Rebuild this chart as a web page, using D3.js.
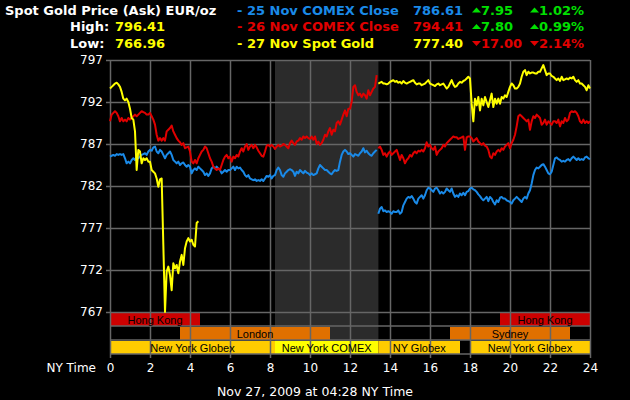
<!DOCTYPE html>
<html>
<head>
<meta charset="utf-8">
<script src="https://cdn.jsdelivr.net/npm/d3@7"></script>
<style>
	html, body { margin: 0; padding: 0; background: #000; }
	svg { display: block; }
</style>
</head>
<body>
<div id="chart"></div>
<script>

// ---- data (5 minute samples, NY time) ----

const hours = d3.range(0, 25, 2);
const priceTicks = [767, 772, 777, 782, 787, 792, 797];

// samples after the COMEX close start at this index (13:25)
const pmStart = 161;

const spotAm = [
	793.6, 793.8, 794.0, 794.2, 794.3, 794.1, 793.8, 793.2, 792.4, 792.2,
	792.4, 792.0, 791.2, 790.1, 789.9, 788.5, 783.9, 786.3, 786.1, 784.7,
	785.3, 785.1, 785.3, 784.9, 784.9, 783.9, 783.7, 783.5, 782.9, 781.9,
	782.8, 782.9, 775.0, 767.0, 771.8, 772.4, 771.4, 769.6, 772.8, 772.2,
	772.6, 771.6, 773.0, 773.8, 772.6, 774.6, 775.4, 775.8, 775.4, 775.6,
	775.0, 774.8, 777.6, 777.8
];

const spotPm = [
	794.2, 794.3, 794.4, 794.2, 794.2, 794.1, 794.2, 794.4, 794.5, 794.6,
	794.4, 794.5, 794.3, 794.4, 794.2, 794.5, 794.3, 794.2, 794.3, 794.4,
	794.5, 794.6, 794.3, 794.1, 794.2, 794.2, 794.0, 794.1, 794.2, 794.4,
	794.6, 794.2, 794.1, 794.0, 793.9, 794.1, 794.2, 794.0, 794.1, 794.2,
	793.9, 793.6, 793.8, 794.2, 794.6, 794.1, 793.8, 793.9, 794.2, 794.4,
	794.3, 794.5, 794.6, 794.8, 795.0, 794.8, 791.8, 789.7, 792.4, 791.6,
	792.6, 791.0, 792.4, 791.6, 792.6, 792.0, 791.4, 792.2, 793.0, 791.4,
	792.4, 791.8, 792.4, 791.8, 792.6, 792.4, 792.8, 792.6, 793.2, 793.8,
	794.2, 794.0, 793.6, 793.6, 793.8, 794.2, 795.0, 795.6, 795.8, 795.2,
	795.6, 795.4, 795.5, 795.5, 795.4, 795.4, 795.6, 795.6, 796.0, 796.4,
	795.8, 795.2, 795.4, 795.4, 795.1, 795.0, 794.8, 794.6, 794.8, 794.5,
	795.0, 794.6, 794.7, 794.8, 794.7, 794.9, 794.8, 795.0, 794.6, 794.4,
	794.6, 794.2, 794.2, 794.0, 793.8, 793.4, 794.0, 793.6
];

const nov26Am = [
	789.7, 790.5, 790.7, 790.9, 790.7, 790.3, 789.7, 790.1, 789.7, 789.9,
	789.7, 790.1, 789.9, 790.1, 790.3, 790.5, 790.3, 790.5, 790.7, 790.9,
	790.8, 790.7, 790.5, 790.5, 790.7, 790.3, 789.9, 789.3, 788.1, 787.4,
	787.7, 787.4, 787.7, 787.4, 788.5, 788.7, 788.9, 789.2, 788.5, 788.1,
	787.7, 787.4, 787.2, 786.9, 787.1, 786.5, 786.6, 786.7, 786.1, 784.9,
	784.7, 785.1, 784.7, 785.3, 785.7, 786.1, 786.3, 786.7, 786.5, 785.9,
	785.3, 784.9, 784.3, 784.1, 783.9, 784.1, 783.9, 784.5, 785.1, 785.5,
	785.7, 785.3, 785.5, 784.9, 785.5, 785.3, 785.7, 785.5, 786.1, 786.5,
	786.1, 786.7, 787.0, 786.3, 786.7, 786.9, 786.5, 786.9, 786.6, 786.2,
	785.9, 785.6, 785.5, 786.1, 786.8, 786.9, 786.7, 786.9, 786.7, 786.4,
	786.7, 786.9, 786.7, 786.8, 787.0, 786.9, 786.7, 786.5, 787.1, 787.4,
	787.1, 786.9, 787.3, 787.4, 787.7, 787.5, 787.9, 787.7, 787.9, 787.7,
	787.6, 787.9, 787.5, 787.9, 787.0, 787.3, 786.9, 787.1, 787.5, 788.1,
	787.9, 788.5, 788.9, 788.1, 788.7, 788.5, 789.5, 789.7, 789.3, 789.9,
	790.5, 791.0, 790.3, 791.2, 791.2, 792.0, 793.8, 794.0, 793.2, 792.8,
	793.0, 792.6, 793.0, 792.8, 792.4, 793.4, 792.8, 793.2, 793.6, 793.8,
	795.2
];

const nov26Pm = [
	786.5, 786.7, 786.3, 785.7, 785.9, 785.5, 785.9, 786.1, 785.7, 785.9,
	786.1, 786.3, 785.7, 785.1, 785.7, 785.3, 784.7, 785.1, 785.3, 785.7,
	785.5, 785.9, 786.1, 785.9, 786.2, 786.1, 786.3, 786.1, 786.5, 787.2,
	786.7, 786.9, 786.5, 786.3, 786.7, 785.7, 786.1, 786.3, 786.5, 786.9,
	786.7, 787.1, 787.3, 787.5, 787.7, 787.9, 787.8, 787.8, 787.6, 787.7,
	787.8, 787.9, 786.3, 787.8, 787.9, 787.9, 787.7, 787.3, 787.5, 787.7,
	787.3, 787.1, 786.9, 787.1, 786.8, 786.7, 786.3, 785.5, 785.3, 785.9,
	785.7, 786.1, 786.3, 786.1, 786.5, 786.3, 786.7, 786.9, 787.1, 786.5,
	787.1, 787.5, 788.1, 789.1, 790.3, 790.5, 790.3, 790.1, 789.9, 789.7,
	789.9, 788.7, 789.7, 790.3, 790.1, 790.5, 790.3, 790.1, 789.3, 789.5,
	789.9, 789.3, 789.7, 789.5, 789.3, 789.7, 789.7, 789.5, 789.9, 789.1,
	789.7, 789.5, 790.1, 789.7, 789.9, 790.7, 790.9, 790.8, 790.9, 790.7,
	790.3, 789.7, 789.5, 789.9, 789.5, 789.7, 789.5, 789.7
];

const nov25Am = [
	785.5, 785.6, 785.7, 785.6, 785.8, 785.7, 785.8, 785.7, 785.8, 785.3,
	784.7, 784.9, 784.7, 785.1, 785.3, 785.1, 785.5, 785.3, 785.5, 785.7,
	785.8, 785.9, 785.7, 786.1, 786.3, 786.2, 786.6, 786.7, 786.1, 785.9,
	786.3, 786.1, 785.7, 785.3, 785.7, 785.9, 786.1, 785.7, 785.1, 784.9,
	784.7, 784.9, 784.5, 784.7, 784.8, 784.5, 784.3, 784.5, 784.3, 783.5,
	783.9, 784.1, 783.9, 784.3, 784.1, 783.9, 783.7, 783.3, 783.5, 783.2,
	783.5, 784.1, 784.3, 784.1, 784.3, 784.1, 783.9, 783.5, 783.7, 783.9,
	783.7, 783.9, 783.9, 784.1, 784.3, 783.9, 784.3, 784.1, 784.2, 783.9,
	783.7, 783.3, 783.1, 783.3, 782.9, 782.8, 782.7, 782.8, 782.6, 782.7,
	782.6, 782.8, 782.6, 782.9, 783.2, 783.1, 783.3, 782.9, 783.2, 783.3,
	783.9, 784.2, 783.9, 783.3, 783.1, 783.5, 783.7, 783.9, 784.0, 783.9,
	783.7, 783.2, 783.7, 783.5, 783.9, 783.7, 783.5, 783.8, 783.6, 783.5,
	783.3, 783.5, 783.3, 783.4, 783.5, 784.1, 784.5, 784.3, 784.1, 783.9,
	783.9, 783.7, 783.5, 783.4, 783.7, 783.9, 783.8, 783.9, 784.9, 785.7,
	786.1, 786.3, 786.1, 785.8, 785.9, 785.7, 785.5, 785.8, 785.7, 785.6,
	785.9, 786.1, 786.5, 786.0, 786.2, 785.9, 785.7, 785.6, 785.9, 786.1,
	786.3
];

const nov25Pm = [
	778.7, 779.3, 779.5, 779.0, 779.1, 778.9, 779.0, 778.9, 778.7, 779.0,
	778.9, 778.9, 779.1, 778.7, 778.9, 779.7, 780.1, 780.5, 780.7, 780.6,
	780.8, 780.5, 780.1, 779.9, 780.5, 780.7, 780.9, 780.5, 780.9, 781.5,
	781.8, 781.7, 781.5, 781.3, 781.7, 781.8, 781.5, 781.1, 781.3, 781.1,
	781.3, 781.7, 781.5, 781.3, 781.7, 781.1, 780.7, 780.9, 780.7, 781.1,
	780.9, 781.2, 780.9, 781.3, 781.4, 781.7, 781.8, 781.6, 781.5, 781.3,
	781.0, 780.8, 780.5, 780.3, 780.5, 780.7, 780.2, 780.7, 780.5, 780.1,
	779.8, 780.3, 780.1, 780.6, 780.7, 780.5, 780.5, 780.3, 780.2, 780.1,
	779.9, 780.3, 780.5, 780.7, 780.5, 780.3, 780.1, 780.5, 780.7, 780.5,
	781.1, 781.5, 782.3, 783.3, 783.9, 784.2, 784.1, 784.3, 784.5, 784.6,
	784.3, 783.9, 783.5, 783.4, 783.7, 784.5, 785.3, 785.4, 785.2, 785.1,
	784.9, 785.0, 784.9, 785.1, 785.2, 785.0, 785.3, 785.5, 785.3, 785.1,
	785.3, 785.1, 785.2, 785.1, 785.4, 785.5, 785.3, 785.2
];

const legendLabels = ['- 25 Nov COMEX Close', '- 26 Nov COMEX Close', '- 27 Nov Spot Gold'];
const legendPrices = ['786.61', '794.41', '777.40'];
const legendChanges = ['7.95', '7.80', '17.00'];
const legendPercents = ['1.02%', '0.99%', '2.14%'];
const legendUp = [true, true, false];
const highPrice = '796.41';
const lowPrice = '766.96';

// trading sessions under the chart (row 0 = top)
const sessionNames = ['Hong Kong', 'Hong Kong', 'London', 'Sydney', 'New York Globex', 'New York COMEX', 'NY Globex', 'New York Globex'];
const sessionFrom = [0, 19.5, 3.5, 17, 0, 8.25, 13.42, 18];
const sessionTo = [4.5, 24, 11, 23, 8.25, 13.42, 17.5, 24];
const sessionRow = [0, 0, 1, 1, 2, 2, 2, 2];
const comexOpen = 8.25;
const comexClose = 13.42;

// ---- drawing ----

const width = 630, height = 400;
const blue = '#1a8ae8', red = '#e00000', yellow = '#ffff00', green = '#00e000';
const gridColor = '#666666';
const font = 'DejaVu Sans, Verdana, sans-serif';

function sessionColor(name) {
	if(name == 'Hong Kong') return '#cc0000';
	if(name == 'London' || name == 'Sydney') return '#e07000';
	if(name == 'New York COMEX') return '#ffff00';
	return '#ffcc00';
}

let svg = d3.select('#chart').append('svg')
	.attr('width', width)
	.attr('height', height)
	.style('background', '#000');

let x = d3.scaleLinear().domain([0, 24]).range([110, 590]);
let y = d3.scaleLinear().domain([767, 797]).range([312, 60]);

let rowH = 14;
let rowTop = r => y(767) + r * rowH;
let bottom = rowTop(3);

// comex shading
svg.append('rect')
	.attr('x', x(comexOpen))
	.attr('y', y(797))
	.attr('width', x(comexClose) - x(comexOpen))
	.attr('height', bottom - y(797))
	.attr('fill', '#2b2b2b');

// session bars
let sessions = sessionNames.map((n, i) => ({name: n, from: sessionFrom[i], to: sessionTo[i], row: sessionRow[i]}));

svg.append('g').selectAll('rect')
	.data(sessions)
	.enter()
	.append('rect')
	.attr('x', d => x(d.from))
	.attr('y', d => rowTop(d.row) + 1)
	.attr('width', d => x(d.to) - x(d.from))
	.attr('height', rowH - 1)
	.attr('fill', d => sessionColor(d.name));

// grid via axes
let xAxis = svg.append('g')
	.attr('transform', `translate(0, ${bottom + 4})`)
	.call(d3.axisBottom(x).tickValues(hours).tickSize(-(bottom + 4 - y(797))).tickPadding(5));

let yAxis = svg.append('g')
	.attr('transform', 'translate(106, 0)')
	.call(d3.axisLeft(y).tickValues(priceTicks).tickSize(-(x(24) - 106)).tickPadding(3));

[xAxis, yAxis].forEach(a => {
	a.select('.domain').remove();
	a.selectAll('line').attr('stroke', gridColor).attr('stroke-width', 1.5);
	a.selectAll('text')
		.attr('fill', '#fff')
		.style('font-family', font)
		.style('font-size', '12px');
});

// row separators
svg.append('g').selectAll('line')
	.data([1, 2, 3])
	.enter()
	.append('line')
	.attr('x1', x(0))
	.attr('x2', x(24))
	.attr('y1', d => rowTop(d))
	.attr('y2', d => rowTop(d))
	.attr('stroke', gridColor)
	.attr('stroke-width', 1.5);

svg.append('g').selectAll('text')
	.data(sessions)
	.enter()
	.append('text')
	.attr('x', d => (x(d.from) + x(d.to)) / 2)
	.attr('y', d => rowTop(d.row) + 11.5)
	.attr('text-anchor', 'middle')
	.style('font-family', 'Liberation Sans, Arial, sans-serif')
	.style('font-size', '11px')
	.attr('fill', '#000')
	.text(d => d.name);

// price lines
let series = [
	{values: nov25Am, start: 0, color: blue},
	{values: nov25Pm, start: pmStart, color: blue},
	{values: nov26Am, start: 0, color: red},
	{values: nov26Pm, start: pmStart, color: red},
	{values: spotAm, start: 0, color: yellow},
	{values: spotPm, start: pmStart, color: yellow}
];

let line = d3.line()
	.x((d, i) => x(d.t))
	.y(d => y(d.v));

svg.append('g').selectAll('path')
	.data(series)
	.enter()
	.append('path')
	.attr('d', s => line(s.values.map((v, i) => ({t: (s.start + i) / 12, v: v}))))
	.attr('fill', 'none')
	.attr('stroke', s => s.color)
	.attr('stroke-width', 2)
	.attr('stroke-linejoin', 'round');

// header
let head = svg.append('g')
	.style('font-family', font)
	.style('font-size', '13px')
	.style('font-weight', 'bold');

let rowY = [14.5, 31, 47.5];

head.append('text').attr('x', 5).attr('y', rowY[0]).attr('fill', '#fff').text('Spot Gold Price (Ask) EUR/oz');
head.append('text').attr('x', 70).attr('y', rowY[1]).attr('fill', '#fff').text('High:');
head.append('text').attr('x', 115).attr('y', rowY[1]).attr('fill', yellow).text(highPrice);
head.append('text').attr('x', 70).attr('y', rowY[2]).attr('fill', '#fff').text('Low:');
head.append('text').attr('x', 115).attr('y', rowY[2]).attr('fill', yellow).text(lowPrice);

let legendColors = [blue, red, yellow];

legendLabels.forEach((lab, i) => {
	let by = rowY[i];
	let c = legendUp[i] ? green : red;

	head.append('text').attr('x', 237).attr('y', by).attr('fill', legendColors[i]).text(lab);
	head.append('text').attr('x', 413).attr('y', by).attr('fill', legendColors[i]).text(legendPrices[i]);

	[[472, legendChanges[i]], [530, legendPercents[i]]].forEach(p => {
		let tx = p[0];
		let tri = legendUp[i]
			? `M${tx},${by - 2}L${tx + 9},${by - 2}L${tx + 4.5},${by - 7}Z`
			: `M${tx},${by - 6.5}L${tx + 9},${by - 6.5}L${tx + 4.5},${by - 1.5}Z`;
		head.append('path').attr('d', tri).attr('fill', c);
		head.append('text').attr('x', tx + 9).attr('y', by).attr('fill', c).text(p[1]);
	});
});

// axis captions
svg.append('text')
	.attr('x', 96)
	.attr('y', 372)
	.attr('text-anchor', 'end')
	.attr('fill', '#fff')
	.style('font-family', font)
	.style('font-size', '12px')
	.text('NY Time');

svg.append('text')
	.attr('x', 315)
	.attr('y', 396)
	.attr('text-anchor', 'middle')
	.attr('fill', '#fff')
	.style('font-family', font)
	.style('font-size', '12.5px')
	.text('Nov 27, 2009 at 04:28 NY Time');

</script>
</body>
</html>
